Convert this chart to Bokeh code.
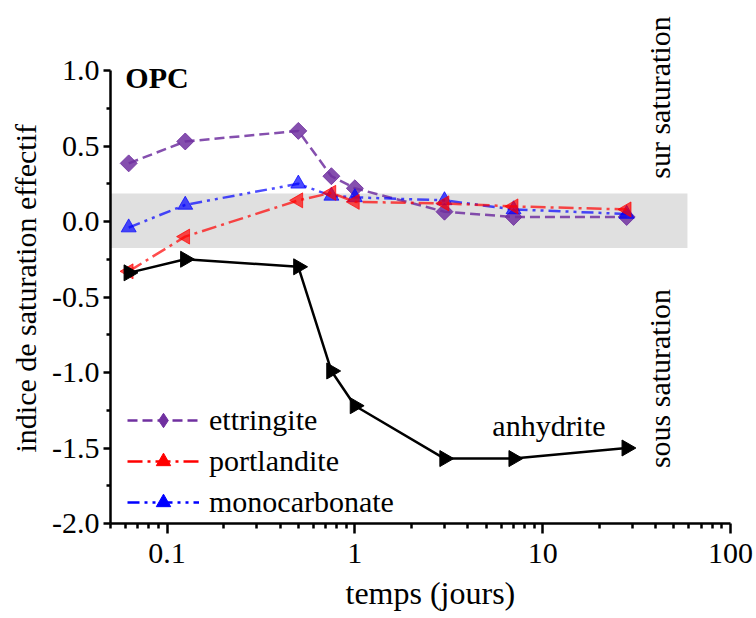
import math
from bokeh.plotting import figure
from bokeh.models import (Legend, LegendItem, BoxAnnotation, Label, FixedTicker, Range1d, Title)
from bokeh.embed import file_html
from bokeh.resources import INLINE

# ---- data ----
temps = [0.0625, 0.125, 0.5, 0.75, 1, 3, 7, 28]
ettringite = [0.385, 0.53, 0.60, 0.30, 0.22, 0.065, 0.03, 0.03]
portlandite = [-0.33, -0.10, 0.14, 0.19, 0.13, 0.12, 0.10, 0.08]
monocarbonate = [-0.04, 0.11, 0.25, 0.17, 0.16, 0.14, 0.08, 0.05]
anhydrite = [-0.34, -0.25, -0.30, -0.99, -1.22, -1.57, -1.57, -1.50]

band_low, band_high, band_right = -0.175, 0.185, 59
x_ticks = [0.1, 1, 10, 100]
x_tick_labels = ["0.1", "1", "10", "100"]
y_ticks = [1.0, 0.5, 0.0, -0.5, -1.0, -1.5, -2.0]
y_tick_labels = ["1.0", "0.5", "0.0", "-0.5", "-1.0", "-1.5", "-2.0"]

FONT = "Liberation Serif"
FS = "30px"

p = figure(width=754, height=618, x_axis_type="log", x_range=(0.05, 100), y_range=(-2.0, 1.4636),
           output_backend="svg", toolbar_location=None,
           min_border_left=110, min_border_right=24, min_border_top=0, min_border_bottom=95)
p.outline_line_color = None
p.grid.visible = False
p.background_fill_color = "white"
p.extra_y_ranges = {"legend_only": Range1d(start=50, end=51)}

band = BoxAnnotation(bottom=band_low, top=band_high, right=band_right, fill_color="#e0e0e0",
                     fill_alpha=1.0, line_color=None, level="underlay")
p.add_layout(band)

minor = []
for d in [0.01, 0.1, 1, 10]:
    for k in range(2, 10):
        minor.append(d * k)

xa = p.xaxis[0]
xa.ticker = FixedTicker(ticks=x_ticks, minor_ticks=minor)
xa.major_label_overrides = {t: l for t, l in zip(x_ticks, x_tick_labels)}
xa.bounds = (0.05, 100)
ya = p.yaxis[0]
ya.ticker = FixedTicker(ticks=y_ticks, minor_ticks=[0.75, 0.25, -0.25, -0.75, -1.25, -1.75])
ya.major_label_overrides = {t: l for t, l in zip(y_ticks, y_tick_labels)}
ya.bounds = (-2.0, 1.0)

for ax in [xa, ya]:
    ax.axis_line_width = 2.5
    ax.axis_line_color = "black"
    ax.major_tick_line_width = 2.5
    ax.minor_tick_line_width = 2.5
    ax.major_label_text_font = FONT
    ax.major_label_text_font_size = FS
    ax.major_label_text_color = "black"

xa.major_tick_in = 0
xa.major_tick_out = 10
xa.minor_tick_in = 0
xa.minor_tick_out = 5
xa.major_label_standoff = 10

ya.major_tick_in = 0
ya.major_tick_out = 7
ya.minor_tick_in = 0
ya.minor_tick_out = 4
ya.major_label_standoff = 4

ytitle = Title(text="indice de saturation effectif", align="left", offset=71,
               text_font=FONT, text_font_size=FS, text_font_style="normal",
               text_color="black", standoff=12, vertical_align="top")
p.add_layout(ytitle, "left")
xtitle = Title(text="temps (jours)", align="left", offset=235,
               text_font=FONT, text_font_size="32px", text_font_style="normal",
               text_color="black", standoff=14)
p.add_layout(xtitle, "below")

PURPLE = "#7030a0"
RED = "#ff0000"
BLUE = "#0000ff"
DIAM = dict(marker="square", angle=math.pi / 4, size=12)
LEFT = dict(marker="triangle", angle=math.pi / 2, size=15)
UP = dict(marker="triangle", size=15)
RIGHT = dict(marker="triangle", angle=-math.pi / 2, size=16)

p.line(temps, ettringite, line_color=PURPLE, line_width=2.5, line_dash="10 5", line_alpha=0.85)
p.scatter(temps, ettringite, fill_color=PURPLE, line_color=PURPLE, fill_alpha=0.85, line_alpha=0.85, **DIAM)
p.line(temps, monocarbonate, line_color=BLUE, line_width=2.5, line_dash="12 5 3 5 3 5", line_alpha=0.7)
p.scatter(temps, monocarbonate, fill_color=BLUE, line_color=BLUE, fill_alpha=0.7, line_alpha=0.7, **UP)
p.line(temps, portlandite, line_color=RED, line_width=2.5, line_dash="15 5 3 5", line_alpha=0.7)
p.scatter(temps, portlandite, fill_color=RED, line_color=RED, fill_alpha=0.7, line_alpha=0.7, **LEFT)
p.line(temps, anhydrite, line_color="black", line_width=2.5)
p.scatter(temps, anhydrite, fill_color="black", line_color="black", **RIGHT)

# legend-only renderers in a range that is off-screen, drawn in full colour
H = dict(y_range_name="legend_only")
lg1 = [p.line(temps, ettringite, line_color=PURPLE, line_width=2.5, line_dash="10 5", **H),
       p.scatter(temps, ettringite, fill_color=PURPLE, line_color=PURPLE, marker="diamond",
                 size=16, **H)]
lg2 = [p.line(temps, portlandite, line_color=RED, line_width=2.5, line_dash="15 5 3 5", **H),
       p.scatter(temps, portlandite, fill_color=RED, line_color=RED, marker="triangle",
                 angle=math.pi / 2, size=12, **H)]
lg3 = [p.line(temps, monocarbonate, line_color=BLUE, line_width=2.5, line_dash="12 5 3 5 3 5", **H),
       p.scatter(temps, monocarbonate, fill_color=BLUE, line_color=BLUE, marker="triangle", size=12, **H)]

legend = Legend(items=[LegendItem(label="ettringite", renderers=lg1),
                       LegendItem(label="portlandite", renderers=lg2),
                       LegendItem(label="monocarbonate", renderers=lg3)],
                location=(17, 3), border_line_color=None, background_fill_alpha=0,
                label_text_font=FONT, label_text_font_size=FS, label_text_color="black",
                glyph_width=72, glyph_height=36, label_height=36, spacing=5, padding=0, margin=0,
                label_standoff=10)
p.add_layout(legend)

def lab(x, y, t, **kw):
    p.add_layout(Label(x=x, y=y, text=t, text_font=FONT, text_color="black", text_font_size=FS, **kw))

lab(0.060, 0.954, "OPC", text_font_style="bold", text_baseline="middle")
lab(10.8, -1.35, "anhydrite", text_align="center", text_baseline="middle")
lab(42, 0.821, "sur saturation", text_align="center", text_baseline="middle", angle=math.pi / 2)
lab(42, -1.04, "sous saturation", text_align="center", text_baseline="middle", angle=math.pi / 2)

open("out.html", "w").write(file_html(p, INLINE))
